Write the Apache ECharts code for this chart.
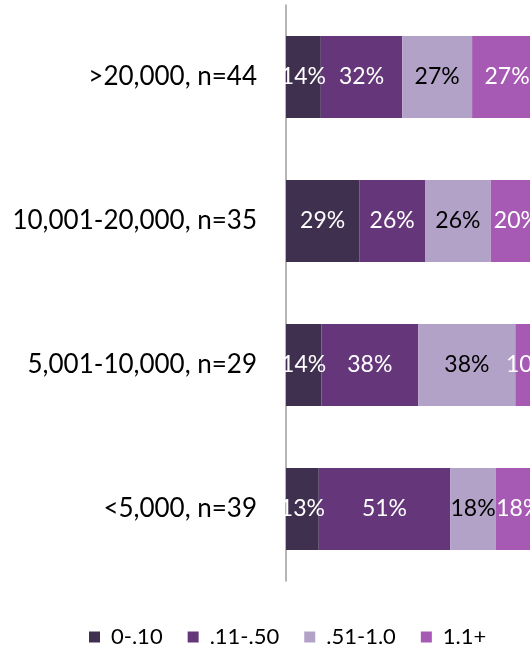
<!DOCTYPE html>
<html>
<head>
<meta charset="utf-8">
<script src="https://cdn.jsdelivr.net/npm/echarts@6/dist/echarts.min.js"></script>
<style>
  html, body { margin: 0; padding: 0; background: #fff; }
  #chart { width: 530px; height: 647px; }
</style>
</head>
<body>
<div id="chart"></div>
<script>
// 分组（从上到下）
const categories = ['>20,000, n=44', '10,001-20,000, n=35', '5,001-10,000, n=29', '<5,000, n=39']
const seriesNames = ['0-.10', '.11-.50', '.51-1.0', '1.1+']
// 各段百分比
const low = [13.6, 28.6, 13.8, 12.8]
const midLow = [31.8, 25.7, 37.9, 51.3]
const midHigh = [27.3, 25.7, 37.9, 17.9]
const high = [27.3, 20.0, 10.3, 17.9]

const colors = ['#403050', '#65377a', '#b3a2c8', '#a65ab3']
const labelColors = ['#fff', '#fff', '#000', '#fff']
const font = 'Lato, "Noto Sans", sans-serif'

const myChart = echarts.init(document.getElementById('chart'))

const seriesData = [low, midLow, midHigh, high]
const series = seriesData.map((d, i) => ({
  name: seriesNames[i],
  type: 'bar',
  stack: 'total',
  barWidth: 82,
  clip: false, // 右侧超出画布，让画布自己裁掉
  data: d,
  itemStyle: { color: colors[i] },
  label: {
    show: true,
    position: 'inside',
    color: labelColors[i],
    fontFamily: font,
    fontSize: 23,
    formatter: p => Math.round(p.value) + '%'
  }
}))

myChart.setOption({
  animation: false,
  color: colors,
  // 100% 大约 256px，画布只显示到 530
  grid: { left: 286, right: 0, top: 5, bottom: 66 },
  legend: {
    left: 84,
    top: 621,
    itemWidth: 11,
    itemHeight: 11,
    itemGap: 25,
    icon: 'rect',
    textStyle: { fontFamily: font, fontSize: 22, color: '#000', padding: [0, 0, 0, 6] },
    data: seriesNames
  },
  xAxis: {
    type: 'value',
    min: 0,
    max: 100 * 244 / 256,
    show: false
  },
  yAxis: {
    type: 'category',
    inverse: true,
    data: categories,
    axisLine: { lineStyle: { color: '#9e9e9e', width: 1.5 } },
    axisTick: { show: false },
    axisLabel: { fontFamily: font, fontSize: 26, color: '#000', margin: 29 }
  },
  series: series
})
</script>
</body>
</html>
